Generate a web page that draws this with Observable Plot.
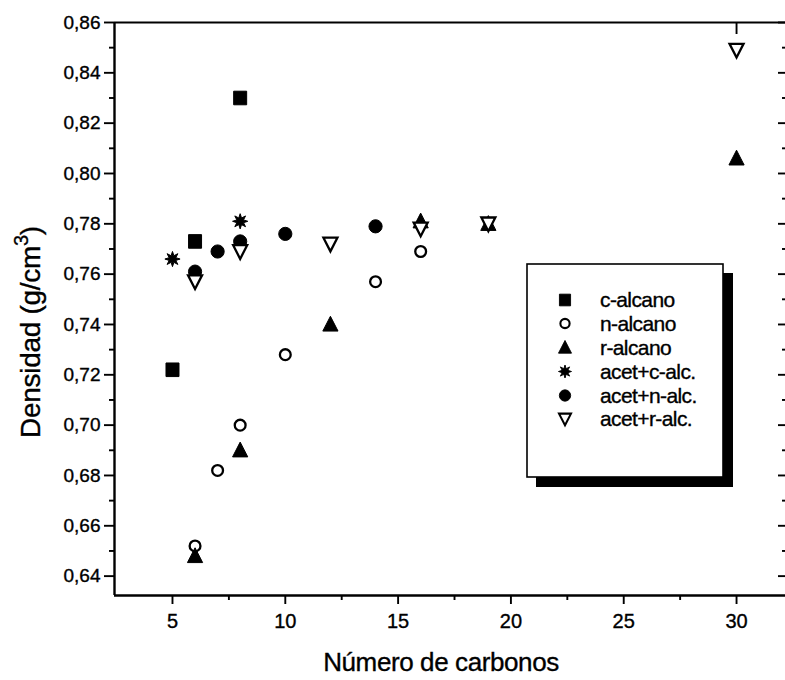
<!DOCTYPE html>
<html><head><meta charset="utf-8">
<script src="https://cdn.jsdelivr.net/npm/d3@7"></script>
<script src="https://cdn.jsdelivr.net/npm/@observablehq/plot@0.6"></script>
<style>
html,body{margin:0;padding:0;background:#fff;}
#chart{width:785px;height:680px;overflow:hidden;}
svg{font-family:"Liberation Sans",Arial,sans-serif;}
svg text{stroke:black;stroke-width:0.35px;}
</style></head><body><div id="chart"></div>
<script>
// ---- data ----
const seriesNames = ["c-alcano", "n-alcano", "r-alcano", "acet+c-alc.", "acet+n-alc.", "acet+r-alc."];
const cAlcanoX = [5, 6, 8];
const cAlcanoY = [0.722, 0.773, 0.830];
const nAlcanoX = [6, 7, 8, 10, 14, 16];
const nAlcanoY = [0.652, 0.682, 0.700, 0.728, 0.757, 0.769];
const rAlcanoX = [6, 8, 12, 16, 19, 30];
const rAlcanoY = [0.648, 0.690, 0.740, 0.781, 0.780, 0.806];
const acetCX = [5, 8];
const acetCY = [0.766, 0.781];
const acetNX = [6, 7, 8, 10, 14];
const acetNY = [0.761, 0.769, 0.773, 0.776, 0.779];
const acetRX = [6, 8, 12, 16, 19, 30];
const acetRY = [0.757, 0.769, 0.772, 0.778, 0.780, 0.849];
const xMajorTicks = [5, 10, 15, 20, 25, 30];
const xMinorTicks = [7.5, 12.5, 17.5, 22.5, 27.5];
const xTopTicks = [30];
const yMajorTicks = [0.64, 0.66, 0.68, 0.70, 0.72, 0.74, 0.76, 0.78, 0.80, 0.82, 0.84, 0.86];
const yMinorTicks = [0.65, 0.67, 0.69, 0.71, 0.73, 0.75, 0.77, 0.79, 0.81, 0.83, 0.85];
const xDomain = [2.43, 32.17];
const yDomain = [0.6323, 0.86];
const xTitle = "Número de carbonos";
const yTitleMain = "Densidad (g/cm";
const yTitleSup = "3";
const yTitleEnd = ")";

// ---- symbols (drawn for r = 7) ----
function poly(pts) {
  return {draw(c, size) {
    const k = Math.sqrt(size / Math.PI) / 7;
    pts.forEach(([x, y], i) => i ? c.lineTo(x * k, y * k) : c.moveTo(x * k, y * k));
    c.closePath();
  }};
}
const symSquare = poly([[-6.5, -6.8], [6.5, -6.8], [6.5, 6.8], [-6.5, 6.8]]);
const symUp = poly([[0, -8.2], [7.6, 6.6], [-7.6, 6.6]]);
const symDown = poly([[-7, -6.3], [7, -6.3], [0, 7.4]]);
const symOpenCircle = {draw(c, size) { const k = Math.sqrt(size / Math.PI) / 7; c.moveTo(5.4 * k, 0); c.arc(0, 0, 5.4 * k, 0, 2 * Math.PI); }};
const symCircle = {draw(c, size) { const k = Math.sqrt(size / Math.PI) / 7; c.moveTo(6.6 * k, 0); c.arc(0, 0, 6.6 * k, 0, 2 * Math.PI); }};
const starPts = [];
for (let i = 0; i < 16; i++) {
  const a = i * Math.PI / 8 - Math.PI / 2;
  const rr = i % 2 ? 3.6 : 7.6;
  starPts.push([rr * Math.cos(a), rr * Math.sin(a)]);
}
const symStar = poly(starPts);

const styles = [
  {symbol: symSquare, fill: "black", stroke: "black", strokeWidth: 1},
  {symbol: symOpenCircle, fill: "white", stroke: "black", strokeWidth: 2.3},
  {symbol: symUp, fill: "black", stroke: "black", strokeWidth: 1},
  {symbol: symStar, fill: "black", stroke: "black", strokeWidth: 1},
  {symbol: symCircle, fill: "black", stroke: "black", strokeWidth: 1},
  {symbol: symDown, fill: "white", stroke: "black", strokeWidth: 2.3}
];
const seriesX = [cAlcanoX, nAlcanoX, rAlcanoX, acetCX, acetNX, acetRX];
const seriesY = [cAlcanoY, nAlcanoY, rAlcanoY, acetCY, acetNY, acetRY];
const tables = seriesX.map((xs, s) => xs.map((x, i) => ({x, y: seriesY[s][i], serie: seriesNames[s]})));

const W = 785, H = 680, mL = 114, mR = 0, mT = 22, mB = 85;
const frameW = W - mL - mR, frameH = H - mT - mB;
const sw = 1.9;

const chart = Plot.plot({
  width: W, height: H,
  marginLeft: mL, marginRight: mR, marginTop: mT, marginBottom: mB,
  x: {domain: xDomain},
  y: {domain: yDomain},
  style: {background: "white", color: "black", fontFamily: "'Liberation Sans', Arial, sans-serif", overflow: "visible"},
  marks: [
    Plot.axisY(yMajorTicks, {tickSize: 10, tickPadding: 4, fontSize: 19, strokeWidth: sw, tickFormat: d => d.toFixed(2).replace(".", ","), label: null}),
    Plot.axisY(yMinorTicks, {tickSize: 5, strokeWidth: sw, tickFormat: () => "", label: null}),
    Plot.axisX(xMajorTicks, {tickSize: 9, tickPadding: 9, fontSize: 20, strokeWidth: sw, label: null}),
    Plot.axisX(xMinorTicks, {tickSize: 5, strokeWidth: sw, tickFormat: () => "", label: null}),
    Plot.tickY(yMajorTicks, {y: d => d, insetLeft: frameW - 7, strokeWidth: sw}),
    Plot.tickY(yMinorTicks, {y: d => d, insetLeft: frameW - 3, strokeWidth: sw}),
    Plot.tickX(xTopTicks, {x: d => d, insetBottom: frameH - 12, strokeWidth: sw}),
    Plot.ruleX([xDomain[0]], {strokeWidth: 2.4}),
    Plot.ruleY([yDomain[0]], {strokeWidth: 2.4}),
    Plot.ruleY([yDomain[1]], {strokeWidth: 2.2}),
    ...tables.map((t, s) => Plot.dot(t, {x: "x", y: "y", r: 7, ...styles[s]}))
  ]
});
document.getElementById("chart").appendChild(chart);

// ---- axis titles & legend ----
const svg = d3.select(chart);
svg.append("text")
  .attr("x", 441).attr("y", 671)
  .attr("text-anchor", "middle")
  .attr("font-size", 26).attr("letter-spacing", "-0.4")
  .attr("fill", "black")
  .text(xTitle);
const yt = svg.append("text")
  .attr("transform", "translate(40,332) rotate(-90)")
  .attr("text-anchor", "middle")
  .attr("font-size", 28).attr("letter-spacing", "-0.3")
  .attr("fill", "black");
yt.append("tspan").text(yTitleMain);
yt.append("tspan").attr("dy", -12).attr("font-size", 20).text(yTitleSup);
yt.append("tspan").attr("dy", 12).text(yTitleEnd);

const lg = svg.append("g");
lg.append("rect").attr("x", 536).attr("y", 273).attr("width", 197).attr("height", 214).attr("fill", "black").attr("stroke", "none");
lg.append("rect").attr("x", 527).attr("y", 264).attr("width", 196).attr("height", 213).attr("fill", "white").attr("stroke", "black").attr("stroke-width", 1.6);
const rowsY = [300, 323.5, 347.5, 371.5, 395.5, 419];
seriesNames.forEach((name, i) => {
  const p = d3.path();
  styles[i].symbol.draw(p, Math.PI * 36);
  lg.append("path").attr("d", p.toString())
    .attr("transform", `translate(565,${rowsY[i]})`)
    .attr("fill", styles[i].fill).attr("stroke", styles[i].stroke).attr("stroke-width", styles[i].strokeWidth * 0.9);
  lg.append("text").attr("x", 600).attr("y", rowsY[i]).attr("dy", "0.35em")
    .attr("text-anchor", "start")
    .attr("font-size", 21).attr("letter-spacing", "-0.6").attr("fill", "black").text(name);
});
</script>
</body></html>
